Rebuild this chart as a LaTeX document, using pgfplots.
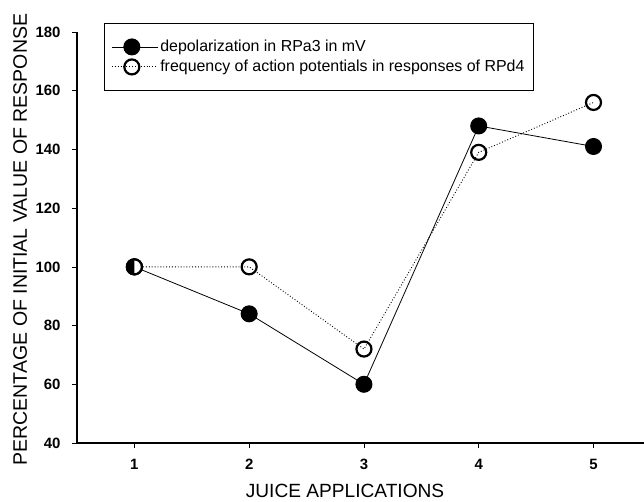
\documentclass[border=0pt]{standalone}
\usepackage{fontspec}
\setmainfont{Liberation Sans}
\usepackage{pgfplots}
\pgfplotsset{compat=1.18}
\usetikzlibrary{plotmarks,calc}
\begin{document}
\begin{tikzpicture}[x=1bp,y=1bp]
\begin{axis}[
  name=ax,
  scale only axis,
  width=567bp, height=411bp,
  xmin=0.5, xmax=5.44,
  ymin=40, ymax=180,
  axis x line*=bottom, axis y line*=left,
  axis line style={line width=2.2bp,-},
  xtick={1,2,3,4,5},
  ytick={40,60,...,180},
  tick align=outside,
  major tick length=5bp,
  tick style={line width=0.6bp,black},
  /pgf/number format/assume math mode=true,
  ticklabel style={font=\bfseries\fontsize{15}{15}\selectfont},
  xticklabel style={yshift=-8bp},
  yticklabel style={xshift=-8bp},
  xlabel={JUICE APPLICATIONS},
  ylabel={PERCENTAGE OF INITIAL VALUE OF RESPONSE},
  xlabel style={font=\fontsize{19.2}{19.2}\selectfont, at={(axis description cs:0.4727,-0.1338)}, anchor=base},
  ylabel style={font=\fontsize{19.6}{19.6}\selectfont, at={(axis description cs:-0.0882,0.495)}, anchor=base},
  legend style={at={(rel axis cs:0.0476,1.0219)}, anchor=north west,
    draw=black, line width=0.8bp, inner xsep=7bp, inner ysep=15bp,
    font=\fontsize{16}{17}\selectfont, row sep=3bp},
  legend cell align=left,
  legend image code/.code={
    \path (0bp,0bp) -- (46bp,0bp);
    \draw[#1,mark=none] (0bp,0bp) -- (38bp,0bp);
    \path[#1] plot coordinates {(20bp,0bp)};
  },
]
\addplot[black, line width=0.8bp, mark=*, mark size=8bp,
  mark options={solid, fill=black, line width=1bp}]
  coordinates {(1,100) (2,84) (3,60) (4,148) (5,141)};
\addlegendentry{depolarization in RPa3 in mV}
\addplot[black, line width=0.9bp, dotted, mark=o, mark size=7.5bp,
  mark options={solid, fill=white, line width=2.2bp}]
  coordinates {(1,100) (2,100) (3,72) (4,139) (5,156)};
\addlegendentry{frequency of action potentials in responses of RPd4}
\addplot[forget plot, only marks, mark=halfcircle*, mark size=7.5bp,
  mark options={rotate=90, fill=black, draw=black, line width=2.2bp}]
  coordinates {(1,100)};
\end{axis}
\pgfresetboundingbox
\path ($(ax.south west)+(-77bp,-59bp)$) rectangle ($(ax.north east)+(0bp,32bp)$);
\end{tikzpicture}
\end{document}
